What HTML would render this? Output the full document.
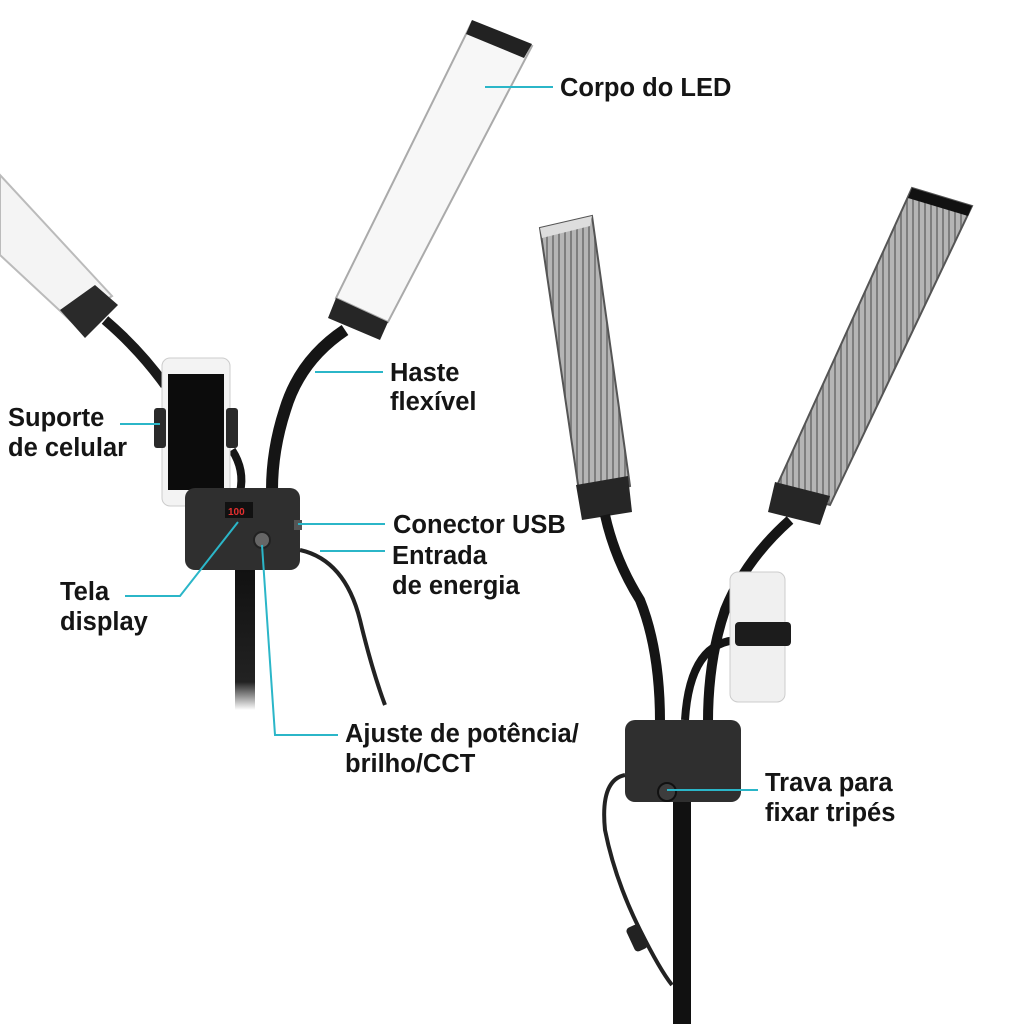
<!DOCTYPE html>
<html><head><meta charset="utf-8"><style>
html,body{margin:0;padding:0;background:#fff;}
svg{display:block}
text{font-family:"Liberation Sans",sans-serif;font-weight:bold;font-size:25.5px;fill:#151515}
</style></head><body>
<svg width="1024" height="1024" viewBox="0 0 1024 1024" xmlns="http://www.w3.org/2000/svg">
<defs>
<pattern id="str" width="6" height="10" patternUnits="userSpaceOnUse"><rect width="6" height="10" fill="#b5b5b5"/><rect width="2" height="10" fill="#7e7e7e"/></pattern>
<linearGradient id="pole" x1="0" y1="0" x2="0" y2="1"><stop offset="0" stop-color="#111"/><stop offset="0.8" stop-color="#222"/><stop offset="1" stop-color="#fff"/></linearGradient>
</defs>

<polygon points="0,175 0,255 72,322 112,296" fill="#f4f4f4" stroke="#bbb" stroke-width="2"/>
<polygon points="60,310 95,285 118,305 85,338" fill="#2a2a2a"/>
<path d="M105,320 Q140,350 165,385" stroke="#1a1a1a" stroke-width="10" fill="none"/>
<polygon points="472,22 532,46 388,322 336,298" fill="#f7f7f7" stroke="#aaa" stroke-width="2"/>
<polygon points="472,20 532,44 524,58 466,34" fill="#222"/>
<polygon points="336,298 388,322 380,340 328,318" fill="#262626"/>
<path d="M345,330 Q300,360 285,410 Q272,450 272,490" stroke="#151515" stroke-width="12" fill="none"/>
<path d="M232,450 Q245,470 240,492" stroke="#151515" stroke-width="8" fill="none"/>
<rect x="162" y="358" width="68" height="148" rx="8" fill="#f3f3f3" stroke="#ccc"/>
<rect x="168" y="374" width="56" height="116" fill="#0c0c0c"/>
<rect x="154" y="408" width="12" height="40" rx="3" fill="#2a2a2a"/>
<rect x="226" y="408" width="12" height="40" rx="3" fill="#2a2a2a"/>
<rect x="185" y="488" width="115" height="82" rx="10" fill="#2f2f2f"/>
<rect x="225" y="502" width="28" height="16" fill="#111"/>
<text x="228" y="515" style="font-size:10px;fill:#e53030">100</text>
<circle cx="262" cy="540" r="8" fill="#666" stroke="#222" stroke-width="2"/>
<rect x="294" y="520" width="8" height="10" fill="#555"/>
<rect x="235" y="570" width="20" height="140" fill="url(#pole)"/>
<path d="M300,550 Q345,560 360,620 Q372,670 385,705" stroke="#222" stroke-width="4" fill="none"/>

<polygon points="540,228 592,216 630,486 580,498" fill="url(#str)" stroke="#555" stroke-width="2"/>
<polygon points="540,228 592,216 590,226 542,238" fill="#ddd"/>
<polygon points="576,485 628,476 632,512 582,520" fill="#262626"/>
<polygon points="912,188 972,206 830,505 775,490" fill="url(#str)" stroke="#555" stroke-width="2"/>
<polygon points="912,188 972,206 968,216 908,198" fill="#111"/>
<polygon points="775,482 830,496 820,525 768,512" fill="#262626"/>
<path d="M605,515 Q615,560 640,600 Q660,650 660,722" stroke="#151515" stroke-width="10" fill="none"/>
<path d="M790,520 Q745,560 725,610 Q708,660 708,722" stroke="#151515" stroke-width="10" fill="none"/>
<path d="M740,640 Q690,640 685,720" stroke="#151515" stroke-width="8" fill="none"/>
<rect x="730" y="572" width="55" height="130" rx="8" fill="#f0f0f0" stroke="#ccc"/>
<rect x="735" y="622" width="56" height="24" rx="4" fill="#1c1c1c"/>
<rect x="625" y="720" width="116" height="82" rx="10" fill="#2f2f2f"/>
<circle cx="667" cy="792" r="9" fill="#3d3d3d" stroke="#111" stroke-width="2"/>
<rect x="673" y="802" width="18" height="222" fill="#111"/>
<path d="M625,775 Q600,780 605,830 Q615,880 640,930 Q660,970 672,985" stroke="#222" stroke-width="4" fill="none"/>
<rect x="630" y="925" width="14" height="26" rx="4" fill="#222" transform="rotate(-25 637 938)"/>

<g stroke="#2bb6c8" stroke-width="2" fill="none">
<line x1="485" y1="87" x2="553" y2="87"/>
<line x1="315" y1="372" x2="383" y2="372"/>
<line x1="120" y1="424" x2="160" y2="424"/>
<line x1="298" y1="524" x2="385" y2="524"/>
<line x1="320" y1="551" x2="385" y2="551"/>
<polyline points="238,522 180,596 125,596"/>
<polyline points="262,545 275,735 338,735"/>
<line x1="667" y1="790" x2="758" y2="790"/>
</g>

<text x="560" y="96">Corpo do LED</text>
<text x="390" y="381">Haste</text>
<text x="390" y="410">flexível</text>
<text x="8" y="426">Suporte</text>
<text x="8" y="456">de celular</text>
<text x="393" y="533">Conector USB</text>
<text x="392" y="564">Entrada</text>
<text x="392" y="594">de energia</text>
<text x="60" y="600">Tela</text>
<text x="60" y="630">display</text>
<text x="345" y="742">Ajuste de potência/</text>
<text x="345" y="772">brilho/CCT</text>
<text x="765" y="791">Trava para</text>
<text x="765" y="821">fixar tripés</text>
</svg>
</body></html>
